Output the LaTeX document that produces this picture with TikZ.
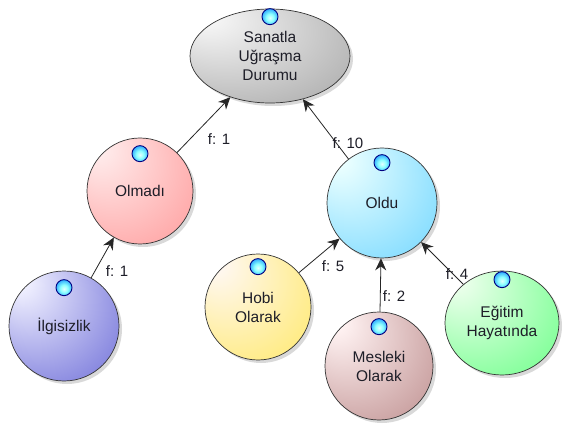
\documentclass[tikz,border=0pt]{standalone}
\usepackage{fontspec}
\setmainfont{Liberation Sans}
\usetikzlibrary{shapes.geometric,arrows.meta,shadows}

% node body: light spot at the upper left fading to the node colour
\pgfdeclareradialshading[nodelight,nodedark]{nodeshade}{\pgfpoint{-22bp}{22bp}}{%
  color(0bp)=(nodelight); color(4bp)=(nodelight); color(64bp)=(nodedark)}
% small glossy orb on top of each node
\pgfdeclareradialshading{orbshade}{\pgfpoint{0bp}{-4bp}}{%
  color(0bp)=(cyan!12!white); color(12bp)=(cyan!45!white); color(30bp)=(cyan!55!blue!90); color(50bp)=(blue!75!cyan!70!black)}

\definecolor{txt}{HTML}{1E1E28}
\colorlet{nodelight}{white}
\colorlet{nodedark}{gray}

\tikzset{
  body/.style 2 args={
    draw=black!80, line width=0.7pt, inner sep=0pt, align=center, text=txt,
    font=\fontsize{15.5}{19}\selectfont,
    /utils/exec={\colorlet{nodelight}{#1}\colorlet{nodedark}{#2}},
    shading=nodeshade,
    drop shadow={shadow xshift=3pt, shadow yshift=-3pt, opacity=0.15, fill=black}},
  round/.style={circle, minimum size=#1},
  oval/.style 2 args={ellipse, minimum width=#1, minimum height=#2},
  orb/.style={circle, minimum size=16pt, inner sep=0pt, draw=blue!50!black,
    line width=0.9pt, shading=orbshade},
  conn/.style={draw=black!85, line width=0.8pt, -{Stealth[length=12pt,width=11pt]}},
  lbl/.style={font=\fontsize{15}{16}\selectfont, text=txt, inner sep=0pt}
}

\begin{document}
\begin{tikzpicture}[x=1pt,y=-1pt]
  \fill[white] (0,0) rectangle (563,425);
  \useasboundingbox (0,0) rectangle (563,425);

  % nodes
  \node[body={gray!8}{gray!95}, oval={160pt}{94pt}] (durum) at (270,56)
    {Sanatla\\Uğraşma\\Durumu};
  \node[body={red!8}{red!52!white}, round=106pt] (olmadi) at (140,191) {Olmadı};
  \node[body={cyan!8}{cyan!70!blue!75}, round=110pt] (oldu) at (382,203) {Oldu};
  \node[body={blue!6}{blue!72!black!78}, round=110pt] (ilgi) at (64,326) {İlgisizlik};
  \node[body={orange!6}{yellow!72!orange!80}, round=106pt] (hobi) at (258,307)
    {Hobi\\Olarak};
  \node[body={red!5!white}{red!40!black!60}, round=108pt] (meslek) at (379,366)
    {Mesleki\\Olarak};
  \node[body={green!8}{green!80!cyan!78}, oval={114pt}{104pt}] (egitim) at (502,323)
    {Eğitim\\Hayatında};

  % orbs
  \node[orb] (durum-orb) at ([yshift=-8pt]durum.north) {};
  \node[orb] (olmadi-orb) at ([yshift=-16pt]olmadi.north) {};
  \node[orb] (oldu-orb) at ([yshift=-15pt]oldu.north) {};
  \node[orb] (ilgi-orb) at ([yshift=-17pt]ilgi.north) {};
  \node[orb] (hobi-orb) at ([yshift=-13pt]hobi.north) {};
  \node[orb] (meslek-orb) at ([yshift=-15pt]meslek.north) {};
  \node[orb] (egitim-orb) at ([yshift=-9pt]egitim.north) {};

  % connectors
  \draw[conn] (olmadi) -- (durum);
  \draw[conn] (oldu) -- (durum);
  \draw[conn] (ilgi) -- (olmadi);
  \draw[conn] (hobi) -- (oldu);
  \draw[conn] (meslek) -- (oldu);
  \draw[conn] (egitim) -- (oldu);

  % frequency labels
  \node[lbl] (f-olmadi) at (219,139) {f: 1};
  \node[lbl] (f-oldu) at (348,143) {f: 10};
  \node[lbl] (f-ilgi) at (117,271) {f: 1};
  \node[lbl] (f-hobi) at (333,266) {f: 5};
  \node[lbl] (f-meslek) at (394,296) {f: 2};
  \node[lbl] (f-egitim) at (457,274) {f: 4};
\end{tikzpicture}
\end{document}
